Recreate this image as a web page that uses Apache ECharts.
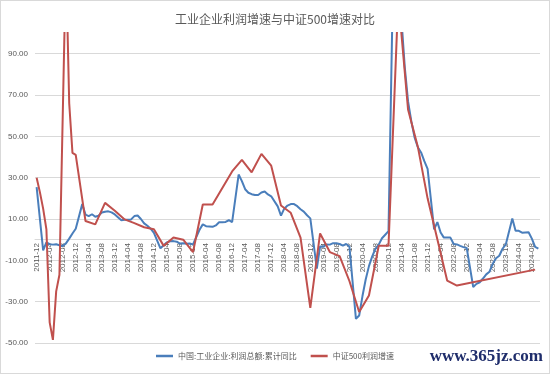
<!DOCTYPE html>
<html><head><meta charset="utf-8">
<script src="https://cdn.jsdelivr.net/npm/echarts@6/dist/echarts.min.js"></script>
<style>
html,body{margin:0;padding:0;background:#fff;}
#c{width:550px;height:374px;box-sizing:border-box;border:1px solid #d9d9d9;}
</style></head>
<body><div id="c"></div>
<script>
// Category axis: monthly, 2011-12 .. 2024-10
const startYear = 2011, startMonth = 12, monthCount = 155;
const categories = [];
for (let i = 0; i < monthCount; i++) {
  const m = (startMonth - 1 + i) % 12 + 1;
  const y = startYear + Math.floor((startMonth - 1 + i) / 12);
  categories.push(y + '-' + (m < 10 ? '0' + m : m));
}
// 中国:工业企业:利润总额:累计同比 (January has no value)
const profitYoY = [25.4,
  null,-5.2,-1.3,-2.2,-2.4,-2.2,-2.7,-3.1,-1.8,0.5,3.0,5.3,
  null,17.2,12.1,11.4,12.3,11.1,11.6,13.1,13.5,13.7,13.2,12.2,
  null,9.4,9.6,9.6,9.8,11.4,11.7,10.0,7.9,6.7,5.3,3.3,
  null,-4.2,-2.7,-1.3,-0.8,-0.7,-1.0,-1.9,-1.7,-2.0,-1.9,-2.3,
  null,4.8,7.4,6.5,6.4,6.2,6.9,8.4,8.4,8.6,9.4,8.5,
  null,31.5,28.3,24.4,22.7,22.0,21.6,21.6,22.8,23.3,21.9,21.0,
  null,16.1,11.6,15.0,16.5,17.2,17.2,16.2,14.7,13.6,11.8,10.3,
  null,-14.0,-3.3,-3.4,-2.3,-2.4,-1.7,-1.7,-2.1,-2.9,-2.1,-3.3,
  null,-38.3,-36.7,-27.4,-19.3,-12.8,-8.1,-4.4,-2.4,0.7,2.4,4.1,
  null,178.9,137.3,106.0,83.4,66.9,57.3,49.5,44.7,42.2,38.0,34.3,
  null,5.0,8.5,3.5,1.0,1.0,1.0,-2.1,-2.3,-3.0,-3.6,-4.0,
  null,-22.9,-21.4,-20.6,-18.8,-16.8,-15.5,-11.7,-9.0,-7.8,-4.4,-2.3,
  null,10.2,4.3,4.3,3.4,3.5,3.6,0.5,-3.5,-4.3
];
// 中证500利润增速
const csi500Growth = [30,
  23,15,5,-40,-48.5,-25,-17,null,135,66,42,41,
  null,null,9,null,null,7.4,null,null,17.8,null,null,14,
  null,null,9.8,null,null,8,null,null,6,null,null,5,
  null,null,-3,null,null,1,null,null,0,null,null,-6,
  null,null,17,null,null,17,null,null,25,null,null,33,
  null,null,38.6,null,null,32.6,null,null,41.5,null,null,35.8,
  null,null,16.5,null,null,13,null,null,1,null,null,-33,
  null,null,3,null,null,-6,null,null,-8,null,null,-20,
  null,null,-35,null,null,-27,null,null,-3,null,null,-3,
  null,null,117,null,null,63,null,null,45,null,null,20,
  null,null,null,null,null,-19.8,null,null,-22.2,null,null,null,
  null,null,null,null,null,null,null,null,null,null,null,null,
  null,null,null,null,null,null,null,null,-14.5,null
];
const seriesNames = ['中国:工业企业:利润总额:累计同比', '中证500利润增速'];
const yTicks = [-50, -30, -10, 10, 30, 50, 70, 90];
const yMin = -50, yMax = 100;

const gridTop = 32, gridBottom = 30, chartH = 374;
const plotH = chartH - gridTop - gridBottom;
// move the category axis up to the value 0 line
const zeroOffset = -plotH * (0 - yMin) / (yMax - yMin);

const chart = echarts.init(document.getElementById('c'), null, {renderer: 'canvas'});
const gray = '#595959';
chart.setOption({
  animation: false,
  title: {
    text: '工业企业利润增速与中证500增速对比',
    left: 'center', top: 7,
    textStyle: {fontSize: 12, fontWeight: 'normal', color: gray, fontFamily: 'Noto Sans CJK SC'}
  },
  legend: {
    bottom: 8, left: 'center',
    itemWidth: 17, itemHeight: 2.5, itemGap: 14, icon: 'rect',
    textStyle: {fontSize: 8, color: gray, fontFamily: 'Noto Sans CJK SC'},
    data: seriesNames
  },
  grid: {left: 34, right: 9, top: gridTop, bottom: gridBottom, containLabel: false},
  xAxis: {
    type: 'category', data: categories, boundaryGap: true,
    offset: zeroOffset,
    axisLine: {onZero: false, lineStyle: {color: '#d9d9d9', width: 1}},
    axisTick: {show: false},
    axisLabel: {interval: 3, rotate: 90, fontSize: 8, color: gray, margin: 4, fontFamily: 'Liberation Sans'},
    splitLine: {show: false}
  },
  yAxis: {
    type: 'value', min: yMin, max: yMax, interval: 10,
    axisLine: {show: false}, axisTick: {show: false},
    axisLabel: {
      fontSize: 8, color: gray, margin: 7, fontFamily: 'Liberation Sans',
      formatter: v => yTicks.indexOf(v) >= 0 ? v.toFixed(2) : ''
    },
    splitLine: {show: true, lineStyle: {color: ['#d9d9d9', 'rgba(0,0,0,0)'], width: 1}}
  },
  series: [
    {name: seriesNames[0], type: 'line', data: profitYoY, showSymbol: false, symbol: 'none',
     connectNulls: true, clip: true, lineStyle: {color: '#4a7ebb', width: 2}, itemStyle: {color: '#4a7ebb'}},
    {name: seriesNames[1], type: 'line', data: csi500Growth, showSymbol: false, symbol: 'none',
     connectNulls: true, clip: true, lineStyle: {color: '#c0504d', width: 2}, itemStyle: {color: '#c0504d'}}
  ],
  graphic: [{
    type: 'text', right: 6, bottom: 8,
    style: {text: 'www.365jz.com', fill: '#1f2d6b', font: 'bold 17px "Liberation Serif"'}
  }]
});
</script></body></html>
